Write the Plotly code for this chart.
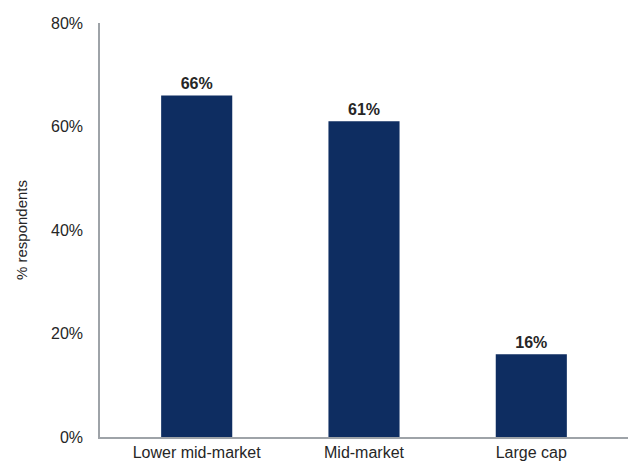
import plotly.graph_objects as go

# Share of respondents by market segment
categories = ["Lower mid-market", "Mid-market", "Large cap"]
values = [66, 61, 16]
y_ticks = [0, 20, 40, 60, 80]
y_tick_labels = ["0%", "20%", "40%", "60%", "80%"]

bar_color = "#0e2d61"
axis_color = "#9ea3a8"
text_color = "#262626"
font_family = "Liberation Sans, Arial, sans-serif"

fig = go.Figure(
    go.Bar(
        x=list(range(len(categories))),
        y=values,
        width=0.425,
        marker=dict(color=bar_color, line=dict(width=0)),
        text=[f"{v}%" for v in values],
        textposition="outside",
        textfont=dict(family=font_family, size=16, color=text_color, weight="bold"),
        cliponaxis=False,
    )
)

fig.update_layout(
    width=634,
    height=466,
    margin=dict(l=100, r=6, t=23, b=29),
    paper_bgcolor="white",
    plot_bgcolor="white",
    showlegend=False,
    font=dict(family=font_family, size=16, color=text_color),
    xaxis=dict(
        range=[-0.578, 2.578],
        tickmode="array",
        tickvals=list(range(len(categories))),
        ticktext=categories,
        showline=True,
        linecolor=axis_color,
        linewidth=1.5,
        showgrid=False,
        zeroline=False,
        ticks="",
        tickfont=dict(size=16, color=text_color),
    ),
    yaxis=dict(
        range=[0, 80],
        tickmode="array",
        tickvals=y_ticks,
        ticktext=y_tick_labels,
        showline=True,
        linecolor=axis_color,
        linewidth=1.5,
        showgrid=False,
        zeroline=False,
        ticks="outside",
        ticklen=12,
        tickcolor="rgba(0,0,0,0)",
        tickfont=dict(size=16, color=text_color),
        title=dict(text="% respondents", font=dict(size=15, color=text_color), standoff=20),
    ),
)

fig.write_html("out.html")
